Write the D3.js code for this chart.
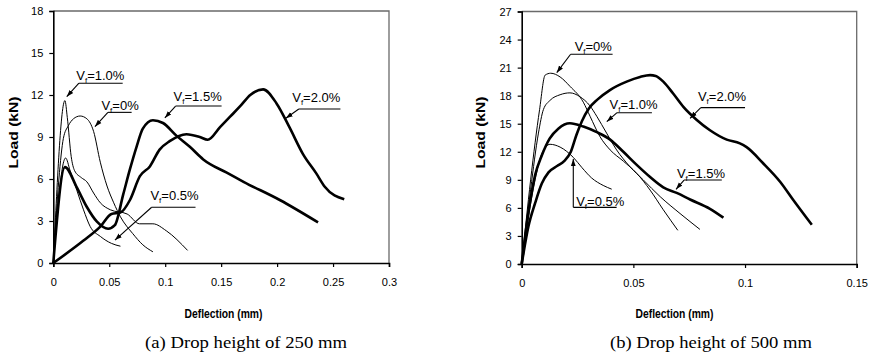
<!DOCTYPE html>
<html><head><meta charset="utf-8">
<script src="https://cdn.jsdelivr.net/npm/d3@7/dist/d3.min.js"></script>
<style>body{margin:0;background:#fff}svg{display:block}</style>
</head><body>
<svg id="c" width="875" height="361"></svg>
<script>
// ---------- DATA ----------
const aXTicks = [0, 0.05, 0.1, 0.15, 0.2, 0.25, 0.3];
const aXTickLabels = ["0", "0.05", "0.1", "0.15", "0.2", "0.25", "0.3"];
const aYTicks = [0, 3, 6, 9, 12, 15, 18];
const bXTicks = [0, 0.05, 0.1, 0.15];
const bXTickLabels = ["0", "0.05", "0.1", "0.15"];
const bYTicks = [0, 3, 6, 9, 12, 15, 18, 21, 24, 27];

const seriesNames = ["0%", "0.5%", "1.0%", "1.5%", "2.0%"];

// (a) Drop height 250 mm : [deflection mm, load kN]
const a_vf00 = [[0,0],[0.005,6.0],[0.009,8.9],[0.0134,9.8],[0.018,10.3],[0.024,10.5],[0.03,10.3],[0.036,9.4],[0.042,7.2],[0.048,5.5],[0.054,4.3],[0.06,3.3],[0.071,2.1],[0.08,1.3],[0.089,0.8]];
const a_vf05 = [[0,0],[0.011,7.5],[0.015,6.6],[0.021,5.2],[0.027,3.8],[0.033,2.6],[0.042,1.9],[0.052,1.4],[0.06,1.2]];
const a_vf10 = [[0,0],[0.0104,11.6],[0.0125,10.4],[0.016,7.6],[0.019,6.6],[0.025,6.1],[0.03,5.8],[0.036,5.0],[0.042,4.3],[0.051,3.8],[0.066,3.5],[0.077,2.8],[0.089,2.8],[0.101,2.3],[0.12,0.9]];
const a_vf15 = [[0,0],[0.0104,6.85],[0.021,5.4],[0.03,4.0],[0.039,2.95],[0.049,2.45],[0.055,2.7],[0.0625,4.9],[0.0685,6.7],[0.0744,8.3],[0.08,9.6],[0.089,10.2],[0.098,10.0],[0.11,9.1],[0.122,8.3],[0.134,7.4],[0.155,6.45],[0.17,5.8],[0.2024,4.5],[0.2366,2.9]];
const a_vf20 = [[0,0],[0.027,1.6],[0.042,2.6],[0.052,3.5],[0.06,3.6],[0.0685,4.5],[0.0774,6.2],[0.0863,6.9],[0.095,8.1],[0.104,8.7],[0.119,9.2],[0.131,9.0],[0.138,8.8],[0.149,9.7],[0.158,10.45],[0.167,11.2],[0.176,12.0],[0.1875,12.4],[0.1995,11.4],[0.211,9.7],[0.223,7.8],[0.235,6.4],[0.2426,5.45],[0.26,4.55]];

// (b) Drop height 500 mm
const b_vf00 = [[0,0],[0.004,9],[0.008,16.5],[0.0105,20.2],[0.013,20.4],[0.0172,20.0],[0.0216,19.0],[0.0276,17.3],[0.0306,15.8],[0.0351,13.6],[0.0396,12.2],[0.0455,11.0],[0.0515,9.7],[0.0575,7.9],[0.0634,5.8],[0.0699,3.6]];
const b_vf05 = [[0,0],[0.003,5],[0.006,9],[0.009,11.8],[0.0127,12.8],[0.0172,12.5],[0.0231,11.4],[0.027,10.3],[0.0313,9.2],[0.0365,8.4],[0.0403,8.0]];
const b_vf10 = [[0,0],[0.004,8],[0.0075,14],[0.0097,16.5],[0.0127,17.5],[0.0172,18.1],[0.0216,18.3],[0.026,17.9],[0.0306,16.9],[0.0336,15.8],[0.038,14.0],[0.0425,12.2],[0.0485,10.4],[0.0544,9.0],[0.062,7.2],[0.0709,5.4],[0.0798,3.7]];
const b_vf15 = [[0,0],[0.003,5.5],[0.006,9.5],[0.009,11.6],[0.0125,13.4],[0.0165,14.5],[0.0216,15.05],[0.0276,14.7],[0.0336,14.1],[0.0396,13.3],[0.0455,12.0],[0.0515,10.6],[0.0575,9.3],[0.0634,8.2],[0.0694,7.6],[0.0754,6.9],[0.0843,5.9],[0.0903,4.95]];
const b_vf20 = [[0,0],[0.003,4],[0.006,6.5],[0.009,8.6],[0.012,9.8],[0.016,10.5],[0.019,11.0],[0.022,12.0],[0.0245,13.8],[0.027,15.3],[0.03,16.6],[0.034,17.6],[0.0395,18.6],[0.047,19.5],[0.053,20.0],[0.0575,20.2],[0.06,20.1],[0.0634,19.5],[0.0679,18.2],[0.0724,16.8],[0.0784,15.4],[0.0843,14.3],[0.0918,13.3],[0.0977,12.9],[0.1007,12.5],[0.108,10.8],[0.1157,8.8],[0.1216,6.85],[0.1299,4.2]];

const aSeries = [a_vf00, a_vf05, a_vf10, a_vf15, a_vf20];
const bSeries = [b_vf00, b_vf05, b_vf10, b_vf15, b_vf20];
const thick = [false, false, false, true, true];

// annotation labels (in data units): text start, baseline, underline, arrow target
const aNotes = [
  {s:"=1.0%", tx:0.0205, ty:13.07, u1:0.0229, u2:0.062, uy:12.84, ax:0.012, ay:11.88},
  {s:"=0%",   tx:0.0430, ty:10.95, u1:0.0488, u2:0.070, uy:10.76, ax:0.0372, ay:9.74},
  {s:"=1.5%", tx:0.1075, ty:11.57, u1:0.1093, u2:0.1504, uy:11.21, ax:0.0997, ay:10.36},
  {s:"=2.0%", tx:0.2135, ty:11.52, u1:0.2194, u2:0.2566, uy:11.0, ax:0.2078, ay:10.34},
  {s:"=0.5%", tx:0.0868, ty:4.5,  u1:0.0879, u2:0.1271, uy:3.98, ax:0.0551, ay:1.64}
];
const bNotes = [
  {s:"=0%",   tx:0.0237, ty:22.8, u1:0.0219, u2:0.0407, uy:22.43, ax:0.0157, ay:20.46},
  {s:"=1.0%", tx:0.0393, ty:16.55, u1:0.0427, u2:0.0583, uy:16.18, ax:0.0381, ay:15.22},
  {s:"=2.0%", tx:0.0789, ty:17.47, u1:0.0802, u2:0.100, uy:16.72, ax:0.0754, ay:15.58},
  {s:"=1.5%", tx:0.0695, ty:9.17, u1:0.0727, u2:0.0896, uy:8.98, ax:0.0691, ay:7.99},
  {s:"=0.5%", tx:0.0244, ty:6.25, u1:0.0231, u2:0.0425, uy:6.06, ax:0.0231, ay:11.23}
];

// ---------- DRAW ----------
const svg = d3.select("#c");
const FONT = "'Liberation Sans', Arial, sans-serif";

const defs = svg.append("defs");
defs.append("marker").attr("id","arr").attr("markerUnits","userSpaceOnUse")
  .attr("markerWidth",8).attr("markerHeight",6).attr("refX",7).attr("refY",3)
  .attr("orient","auto")
  .append("path").attr("d","M0,0.6 L7,3 L0,5.4 Z").attr("fill","#000");

function panel(cfg) {
  const x = d3.scaleLinear().domain(cfg.xDom).range(cfg.xRange);
  const y = d3.scaleLinear().domain(cfg.yDom).range(cfg.yRange);
  const g = svg.append("g");

  // frame (top/right)
  g.append("path")
    .attr("d", `M${x.range()[0]},${y.range()[1]}H${x.range()[1]}V${y.range()[0]}`)
    .attr("fill","none").attr("stroke","#6a6a6a").attr("stroke-width",1.3);

  const xAxis = g.append("g").attr("transform",`translate(0,${y.range()[0]})`)
    .call(d3.axisBottom(x).tickValues(cfg.xTicks).tickSize(4).tickPadding(11)
      .tickFormat((d,i)=>cfg.xTickLabels[i]));
  const yAxis = g.append("g").attr("transform",`translate(${x.range()[0]},0)`)
    .call(d3.axisLeft(y).tickValues(cfg.yTicks).tickSize(4).tickPadding(6).tickFormat(d=>d));
  [xAxis,yAxis].forEach(a=>{
    a.select(".domain").attr("stroke","#000").attr("stroke-width",1.6);
    a.selectAll(".tick line").attr("stroke","#000").attr("stroke-width",1.2);
    a.selectAll("text").attr("font-family",FONT).attr("font-size",11).attr("fill","#000");
  });

  const line = d3.line().x(d=>x(d[0])).y(d=>y(d[1])).curve(d3.curveMonotoneX);
  cfg.series.forEach((s,i)=>{
    g.append("path").attr("d", line(s)).attr("fill","none").attr("stroke","#000")
      .attr("stroke-width", thick[i] ? 2.6 : 1.0).attr("stroke-linejoin","round");
  });

  cfg.notes.forEach(n=>{
    const t = g.append("text").attr("x",x(n.tx)).attr("y",y(n.ty))
      .attr("font-family",FONT).attr("font-size",13).attr("fill","#000");
    t.append("tspan").text("V");
    t.append("tspan").text("f").attr("font-size",8).attr("dy",3);
    t.append("tspan").text(n.s).attr("dy",-3);
    g.append("line").attr("x1",x(n.u1)).attr("x2",x(n.u2)).attr("y1",y(n.uy)).attr("y2",y(n.uy))
      .attr("stroke","#000").attr("stroke-width",1.1);
    g.append("line").attr("x1",x(n.u1)).attr("y1",y(n.uy)).attr("x2",x(n.ax)).attr("y2",y(n.ay))
      .attr("stroke","#000").attr("stroke-width",1.1).attr("marker-end","url(#arr)");
  });

  // axis titles
  g.append("text").attr("x",cfg.xTitleX).attr("y",318).attr("text-anchor","middle")
    .attr("font-family",FONT).attr("font-weight","bold").attr("font-size",12)
    .attr("textLength",78).attr("lengthAdjust","spacingAndGlyphs").text("Deflection (mm)");
  g.append("text").attr("transform",`translate(${cfg.yTitleX},132.5) rotate(-90)`)
    .attr("text-anchor","middle").attr("font-family",FONT).attr("font-weight","bold")
    .attr("font-size",12.5).attr("textLength",72).attr("lengthAdjust","spacingAndGlyphs").text("Load (kN)");
  // caption
  g.append("text").attr("x",cfg.capX).attr("y",348).attr("text-anchor","middle")
    .attr("font-family","'Liberation Serif', 'Times New Roman', serif").attr("font-size",17)
    .attr("textLength",202).attr("lengthAdjust","spacingAndGlyphs").text(cfg.caption);
}

panel({xDom:[0,0.3], xRange:[53.3,389], yDom:[0,18], yRange:[263,11],
  xTicks:aXTicks, xTickLabels:aXTickLabels, yTicks:aYTicks, series:aSeries, notes:aNotes,
  xTitleX:223.5, yTitleX:18, capX:246, caption:"(a) Drop height of 250 mm"});
panel({xDom:[0,0.15], xRange:[521.7,856.7], yDom:[0,27], yRange:[264,11.5],
  xTicks:bXTicks, xTickLabels:bXTickLabels, yTicks:bYTicks, series:bSeries, notes:bNotes,
  xTitleX:674.5, yTitleX:485, capX:711, caption:"(b) Drop height of 500 mm"});
</script>
</body></html>
